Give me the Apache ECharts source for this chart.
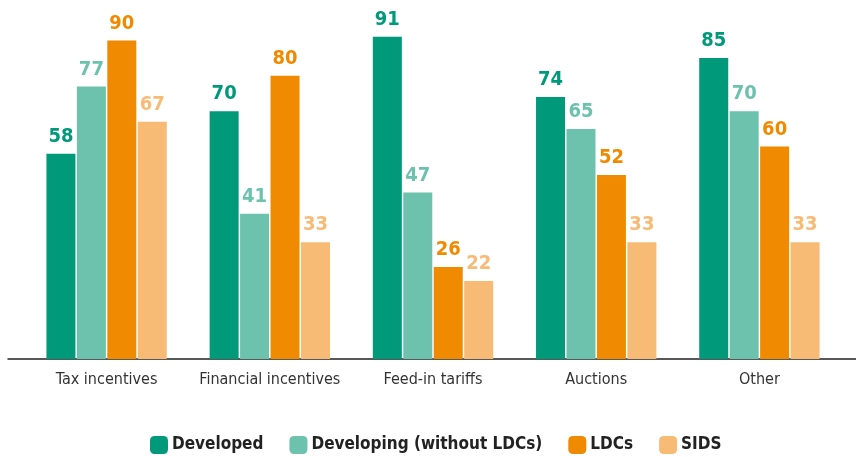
<!DOCTYPE html>
<html><head><meta charset="utf-8">
<script src="https://cdn.jsdelivr.net/npm/echarts@6/dist/echarts.min.js"></script>
<style>html,body{margin:0;padding:0;background:#fff}#c{width:856px;height:457px}</style>
</head><body><div id="c"></div>
<script>
const categories = ["Tax incentives", "Financial incentives", "Feed-in tariffs", "Auctions", "Other"];
const developed = [58, 70, 91, 74, 85];
const developing = [77, 41, 47, 65, 70];
const ldcs = [90, 80, 26, 52, 60];
const sids = [67, 33, 22, 33, 33];
const seriesNames = ["Developed", "Developing (without LDCs)", "LDCs", "SIDS"];
const colors = ["#00997a", "#6cc2ad", "#f08a00", "#f8bb76"];
const FONT = "'Liberation Sans Narrow','DejaVu Sans Condensed',Roboto,sans-serif";

const chart = echarts.init(document.getElementById('c'));
const mk = (name, data, i) => ({
  name, type: 'bar', data, xAxisIndex: 0, yAxisIndex: 0,
  barWidth: 29, barGap: '5%',
  itemStyle: { color: colors[i] },
  label: { show: true, position: 'top', distance: 7, color: colors[i],
    fontFamily: FONT, fontWeight: 'bold', fontSize: 20 }
});
chart.setOption({
  animation: false,
  color: colors,
  grid: [
    { left: 25, right: 15, top: 5, bottom: 98 },
    { left: 8, right: 0, top: 5, bottom: 98 }
  ],
  xAxis: [
    { type: 'category', gridIndex: 0, data: categories,
      axisLine: { show: false }, axisTick: { show: false },
      axisLabel: { interval: 0, color: '#333', fontFamily: FONT, fontSize: 16, margin: 13 } },
    { type: 'value', gridIndex: 1, min: 0, max: 1,
      axisLine: { show: true, onZero: false, lineStyle: { color: '#222', width: 1.5 } },
      axisTick: { show: false }, axisLabel: { show: false }, splitLine: { show: false } }
  ],
  yAxis: [
    { type: 'value', gridIndex: 0, min: 0, max: 100, show: false, splitLine: { show: false } },
    { type: 'value', gridIndex: 1, min: 0, max: 1, show: false, splitLine: { show: false } }
  ],
  legend: {
    top: 436, left: 150, padding: 0, icon: 'roundRect', itemWidth: 18, itemHeight: 18,
    itemGap: 26, data: seriesNames,
    textStyle: { color: '#222', fontFamily: FONT, fontSize: 17, fontWeight: 'bold', padding: [0, 0, 0, -1] }
  },
  series: [
    mk(seriesNames[0], developed, 0),
    mk(seriesNames[1], developing, 1),
    mk(seriesNames[2], ldcs, 2),
    mk(seriesNames[3], sids, 3)
  ]
});
</script></body></html>
